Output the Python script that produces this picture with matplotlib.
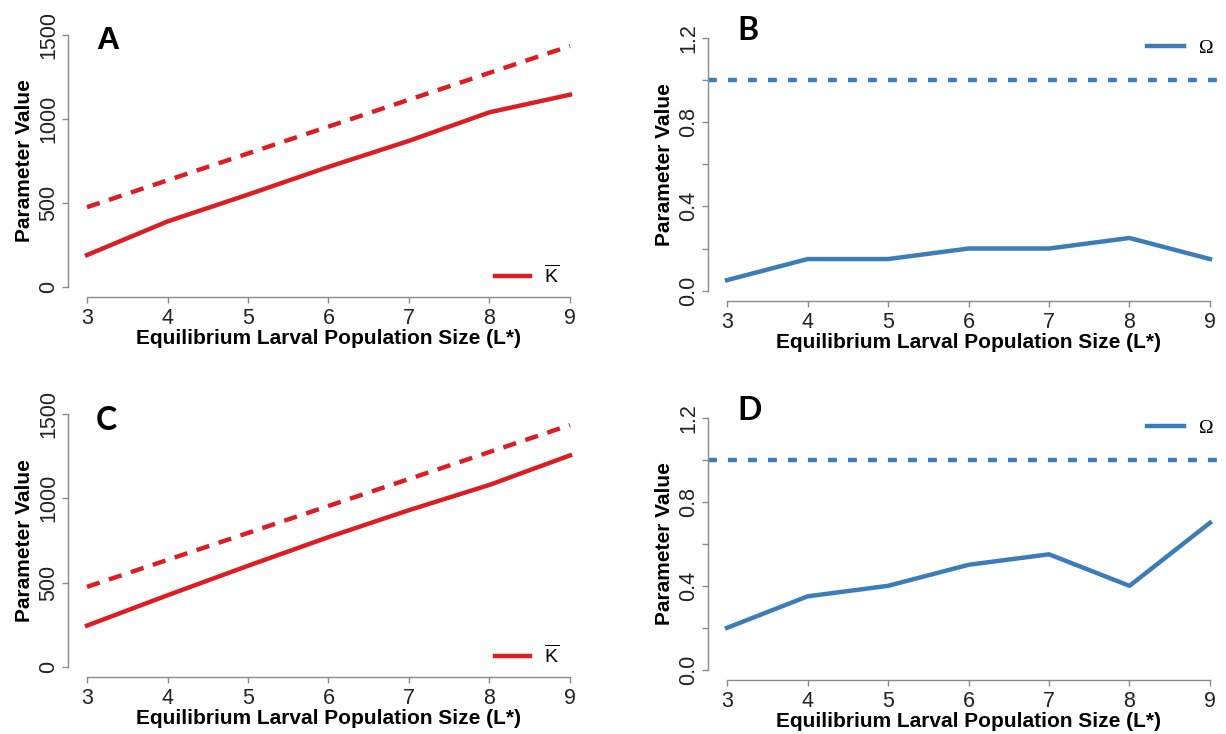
import numpy as np
import matplotlib.pyplot as plt

plt.rcParams['font.family'] = ['Liberation Sans', 'DejaVu Sans']
plt.rcParams['mathtext.fontset'] = 'custom'
plt.rcParams['mathtext.rm'] = 'Liberation Sans'
plt.rcParams['mathtext.it'] = 'Liberation Sans:italic'

W, H = 1226, 734

# equilibrium larval population size
L_star = [3, 4, 5, 6, 7, 8, 9]

# panel A / C: carrying capacity (solid) and reference (dashed)
K_ref = [475, 635, 795, 955, 1115, 1275, 1435]
K_A = [190, 390, 550, 715, 870, 1040, 1145]
K_C = [245, 425, 600, 770, 930, 1080, 1255]

# panel B / D: Omega
omega_B = [0.05, 0.15, 0.15, 0.20, 0.20, 0.25, 0.15]
omega_D = [0.20, 0.35, 0.40, 0.50, 0.55, 0.40, 0.70]
omega_ref = 1.0

k_ticks = [0, 500, 1000, 1500]
k_ticklabels = ['0', '500', '1000', '1500']
o_ticks = [0.0, 0.2, 0.4, 0.6, 0.8, 1.0, 1.2]
o_ticklabels = ['0.0', '', '0.4', '', '0.8', '', '1.2']

RED = '#dc1e24'
BLUE = '#3c7db9'
GREY = '#8a8a8a'
XLAB = 'Equilibrium Larval Population Size (L*)'


def px_axes(fig, left, top, right, bottom):
    return fig.add_axes([left / W, 1 - bottom / H, (right - left) / W, (bottom - top) / H])


def r_style(ax, yticks, yticklabels, ylim):
    ax.set_xlim(2.76, 9.24)
    ax.set_ylim(*ylim)
    for s in ['top', 'right']:
        ax.spines[s].set_visible(False)
    for s in ['left', 'bottom']:
        ax.spines[s].set_color(GREY)
        ax.spines[s].set_linewidth(1.0)
    ax.spines['bottom'].set_bounds(3, 9)
    ax.spines['left'].set_bounds(yticks[0], yticks[-1])
    ax.set_xticks(L_star)
    ax.set_yticks(yticks)
    ax.set_yticklabels(yticklabels, rotation=90, va='center')
    ax.tick_params(direction='out', length=4, width=1.0, color=GREY,
                   labelsize=15.5, labelcolor='#222222', pad=2)
    ax.tick_params(axis='x', pad=4)
    ax.set_xlabel(XLAB, fontsize=15, fontweight='bold', labelpad=0)
    ax.set_ylabel('Parameter Value', fontsize=15, fontweight='bold', labelpad=3)
    ax.patch.set_visible(False)


def panel_letter(ax, letter, x, y, family):
    ax.text(x, y, letter, transform=ax.transAxes, fontsize=23, family=family,
            fontweight='bold', va='center', ha='left')


def k_panel(ax, solid, letter, lx, ly, family):
    r_style(ax, k_ticks, k_ticklabels, (-60, 1560))
    ax.plot(L_star, K_ref, color=RED, lw=3.2, ls=(0, (3.0, 2.2)), clip_on=False)
    ax.plot(L_star, solid, color=RED, lw=3.2, clip_on=False, label=r'$\overline{\mathrm{K}}$')
    ax.legend(loc='center right', bbox_to_anchor=(0.942, 0.08), frameon=False,
              fontsize=14, handlelength=1.8, handletextpad=0.7,
              borderpad=0, borderaxespad=0)
    panel_letter(ax, letter, lx, ly, family)


def omega_panel(ax, omega, letter, lx, ly):
    r_style(ax, o_ticks, o_ticklabels, (-0.048, 1.248))
    ax.axhline(omega_ref, xmin=0.0, xmax=1.05, color=BLUE, lw=3.2,
               ls=(0, (2.0, 2.5)), clip_on=False)
    ax.plot(L_star, omega, color=BLUE, lw=3.2, clip_on=False)
    ax.plot([], [], color=BLUE, lw=3.2, label='Ω')
    leg = ax.legend(loc='center right', bbox_to_anchor=(0.97, 0.925), frameon=False,
                    fontsize=14, handlelength=1.9, handletextpad=0.8,
                    borderpad=0, borderaxespad=0)
    for t in leg.get_texts():
        t.set_fontfamily('Liberation Serif')
    panel_letter(ax, letter, lx, ly, 'Lato')


fig = plt.figure(figsize=(W / 100, H / 100), dpi=100)

axA = px_axes(fig, 67.7, 25, 589.3, 297)
axB = px_axes(fig, 707.7, 27.6, 1229.3, 300.8)
axC = px_axes(fig, 67.7, 404, 589.3, 677)
axD = px_axes(fig, 707.7, 407.6, 1229.3, 680)

k_panel(axA, K_A, 'A', 0.054, 0.94, 'Liberation Sans')
omega_panel(axB, omega_B, 'B', 0.056, 0.99)
k_panel(axC, K_C, 'C', 0.054, 0.94, 'Lato')
omega_panel(axD, omega_D, 'D', 0.056, 0.99)

fig.savefig('out.png', dpi=100)
